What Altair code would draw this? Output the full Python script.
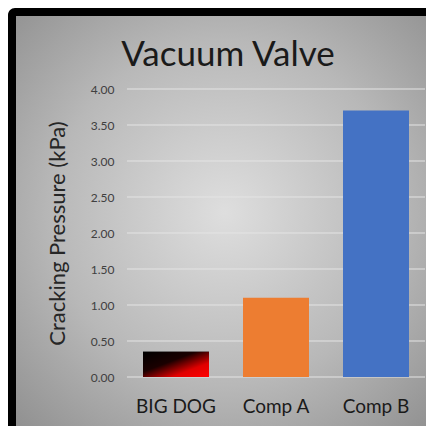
import altair as alt
import pandas as pd

categories = ["BIG DOG", "Comp A", "Comp B"]
values = [0.35, 1.10, 3.70]
bar_colors = ["#000000", "#ED7D31", "#4472C4"]
tick_values = [0.0, 0.5, 1.0, 1.5, 2.0, 2.5, 3.0, 3.5, 4.0]
title_text = "Vacuum Valve"
y_title = "Cracking Pressure (kPa)"

W, H = 298, 288
PL, PT = 119, 81
PR = 418 - PL - W
PB = 418 - PT - H
FONT = "Lato"

df = pd.DataFrame({"name": categories, "value": values})
one = pd.DataFrame({"k": [0]})
grid_df = pd.DataFrame({"value": tick_values})

frame = alt.Chart(one).mark_rect(color="black", cornerRadius=7).encode(
    x=alt.value(-PL), x2=alt.value(W + PR + 30),
    y=alt.value(-PT), y2=alt.value(H + PB + 30),
)
bg = alt.Chart(one).mark_rect(
    fill={
        "gradient": "radial",
        "x1": 0.5, "y1": 0.47, "r1": 0,
        "x2": 0.5, "y2": 0.47, "r2": 0.75,
        "stops": [
            {"offset": 0, "color": "#dedede"},
            {"offset": 0.55, "color": "#b8b8b8"},
            {"offset": 1, "color": "#8c8c8c"},
        ],
    }
).encode(
    x=alt.value(-PL + 8), x2=alt.value(W + PR + 8),
    y=alt.value(-PT + 8), y2=alt.value(H + PB + 8),
)

title = alt.Chart(one).mark_text(
    text=title_text, font=FONT, fontSize=35, color="#1a1a1a",
    align="center", baseline="alphabetic",
).encode(x=alt.value(101), y=alt.value(-23))

x_enc = alt.X(
    "name:N",
    sort=categories,
    scale=alt.Scale(domain=categories, paddingInner=0.34, paddingOuter=0.16),
    axis=alt.Axis(title=None, labelAngle=0, domain=False, ticks=False,
                  labelFont=FONT, labelFontSize=19, labelColor="#1a1a1a",
                  labelPadding=20, zindex=1),
)
y_enc = alt.Y(
    "value:Q",
    scale=alt.Scale(domain=[0, 4], nice=False),
    axis=alt.Axis(title=y_title, values=tick_values, format=".2f", grid=False,
                  domain=False, ticks=False, labelFont=FONT, labelFontSize=12,
                  labelColor="#404040", labelPadding=13, titleFont=FONT,
                  titleFontSize=22, titleFontWeight="normal", titleColor="#262626",
                  titlePadding=21, zindex=1),
)

grid = alt.Chart(grid_df).mark_rule(color="#e4e4e4", strokeWidth=1).encode(
    y=y_enc, x=alt.value(0), x2=alt.value(W)
)

bars = alt.Chart(df).mark_bar().encode(
    x=x_enc, y=y_enc,
    color=alt.Color("name:N", scale=alt.Scale(domain=categories, range=bar_colors), legend=None),
)

bigdog = alt.Chart(df).transform_filter(alt.datum.name == "BIG DOG").mark_bar(
    fill={
        "gradient": "linear",
        "x1": 0, "y1": 0, "x2": 1, "y2": 1,
        "stops": [
            {"offset": 0, "color": "#000000"},
            {"offset": 0.4, "color": "#1a0000"},
            {"offset": 0.72, "color": "#e00000"},
            {"offset": 1, "color": "#ff0000"},
        ],
    }
).encode(x=x_enc, y=y_enc)

chart = alt.layer(frame, bg, title, grid, bars, bigdog).properties(
    width=W, height=H,
    autosize=alt.AutoSizeParams(type="none"),
    padding={"left": PL, "top": PT, "right": PR, "bottom": PB},
).configure_view(stroke=None).configure(background="white")

chart.save("out.html", embed_options={"renderer": "svg", "actions": False})
